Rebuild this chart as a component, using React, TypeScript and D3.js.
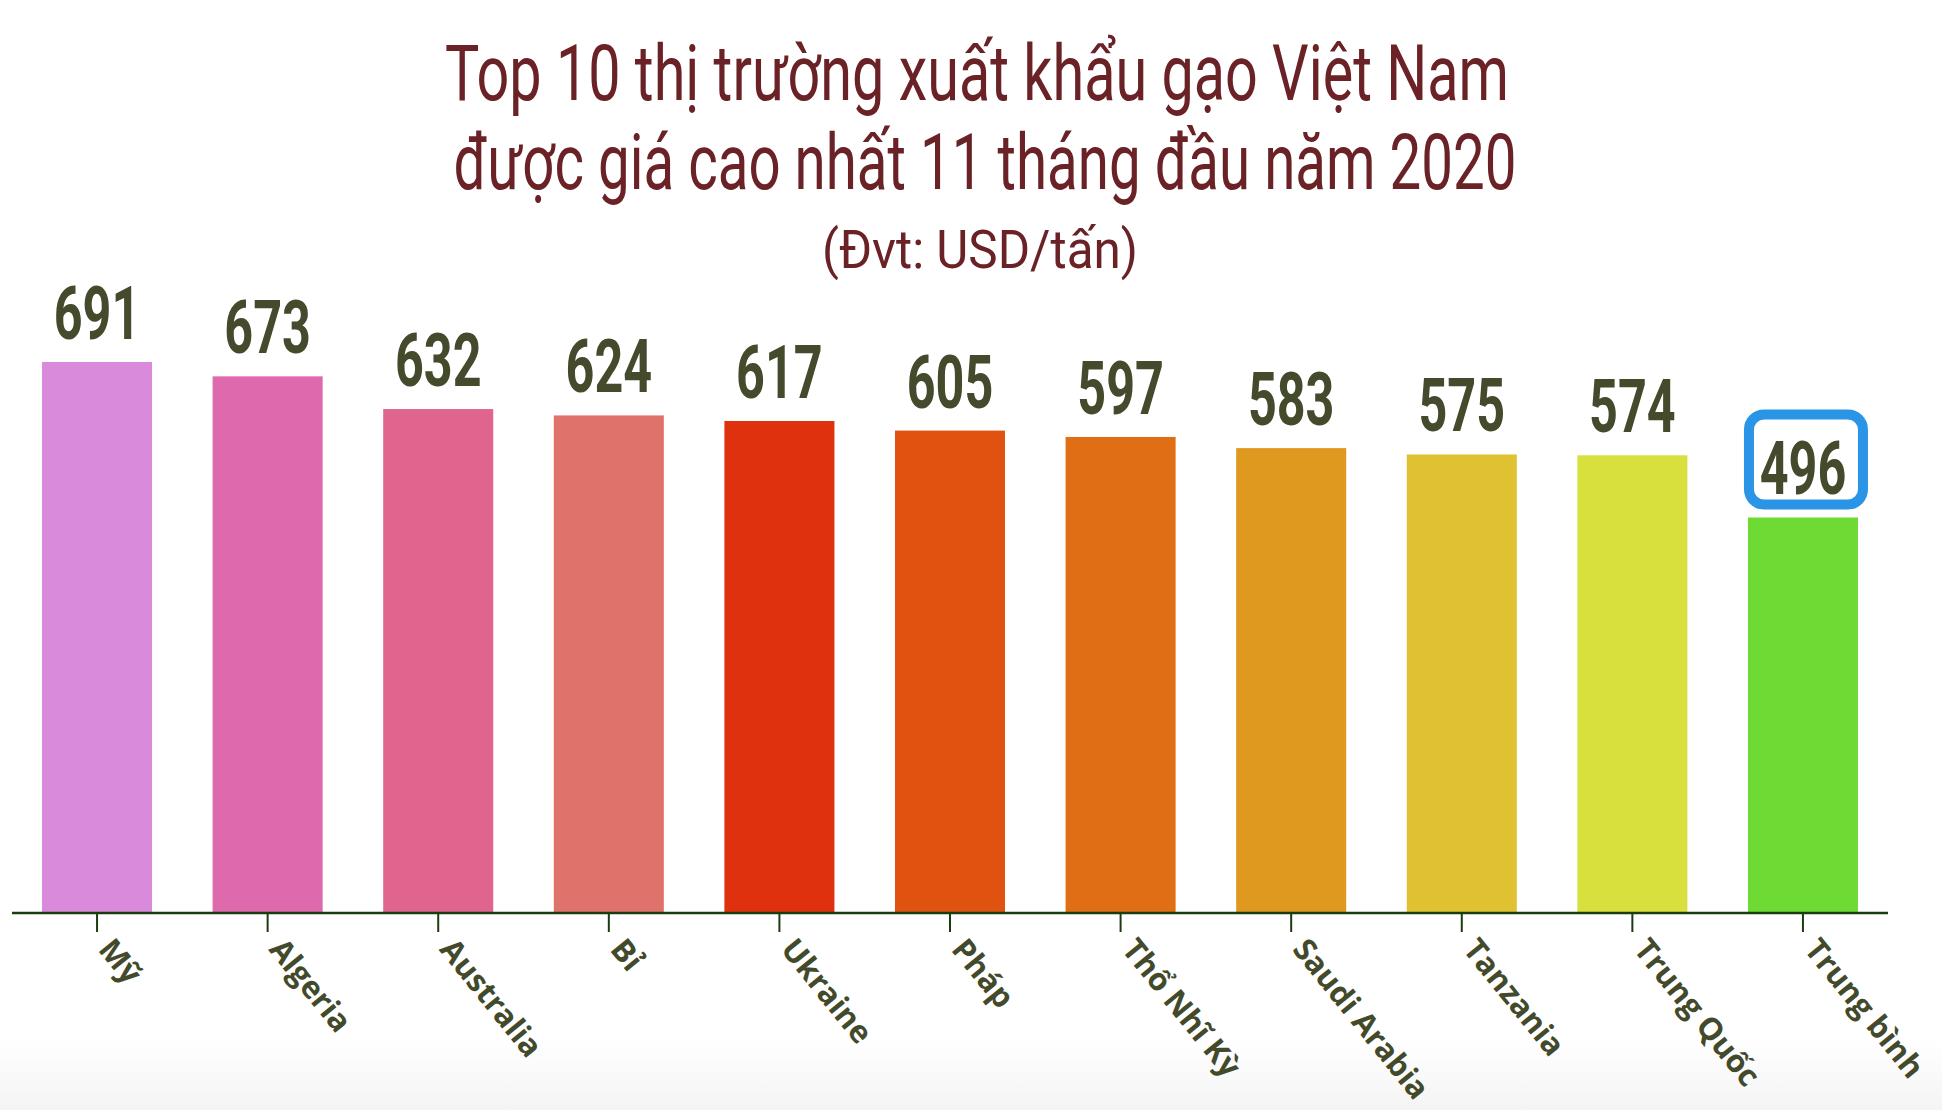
import React, { useRef, useEffect } from "react"
import * as d3 from "d3"

const countries = [
  "Mỹ",
  "Algeria",
  "Australia",
  "Bỉ",
  "Ukraine",
  "Pháp",
  "Thổ Nhĩ Kỳ",
  "Saudi Arabia",
  "Tanzania",
  "Trung Quốc",
  "Trung bình",
]

const prices = [691, 673, 632, 624, 617, 605, 597, 583, 575, 574, 496]

const barColors = [
  "#d98adb",
  "#de69ad",
  "#df658f",
  "#df726b",
  "#e0310e",
  "#df520f",
  "#df6e14",
  "#df991f",
  "#dfc131",
  "#d7e03d",
  "#6edb35",
]

const titleLines = [
  "Top 10 thị trường xuất khẩu gạo Việt Nam",
  "được giá cao nhất 11 tháng đầu năm 2020",
]
const unitLine = "(Đvt: USD/tấn)"
const highlighted = "Trung bình"

const W = 1942
const H = 1110

const App: React.FC = () => {
  const svgRef = useRef<SVGSVGElement>(null)

  useEffect(() => {
    if (!svgRef.current) return
    const svg = d3.select(svgRef.current)
    svg.selectAll("*").remove()

    const data = countries.map((name, i) => ({
      name,
      value: prices[i],
      color: barColors[i],
    }))

    const baseline = 913
    const x = d3
      .scaleBand()
      .domain(countries)
      .range([12, 1888])
      .paddingInner(0.355)
      .paddingOuter(0.176)

    const y = d3.scaleLinear().domain([0, 691]).range([baseline, 362])

    // soft grey fade at the bottom
    const defs = svg.append("defs")
    const grad = defs
      .append("linearGradient")
      .attr("id", "fade")
      .attr("x1", 0)
      .attr("x2", 0)
      .attr("y1", 0)
      .attr("y2", 1)
    grad.append("stop").attr("offset", "0%").attr("stop-color", "#ffffff")
    grad.append("stop").attr("offset", "100%").attr("stop-color", "#f4f4f4")

    svg.append("rect").attr("width", W).attr("height", H).attr("fill", "#fff")
    svg
      .append("rect")
      .attr("y", 1040)
      .attr("width", W)
      .attr("height", H - 1040)
      .attr("fill", "url(#fade)")

    // title
    const titleColor = "#6a2226"
    const titleInfo = [
      { text: titleLines[0], cx: 977, y: 100, size: 78, len: 1064 },
      { text: titleLines[1], cx: 985, y: 189, size: 78, len: 1063 },
      { text: unitLine, cx: 980, y: 268, size: 54, len: 316 },
    ]
    svg
      .selectAll(".title")
      .data(titleInfo)
      .enter()
      .append("text")
      .attr("class", "title")
      .attr("x", (d) => d.cx - d.len / 2)
      .attr("y", (d) => d.y)
      .attr("textLength", (d) => d.len)
      .attr("lengthAdjust", "spacingAndGlyphs")
      .attr("font-family", "Roboto, sans-serif")
      .attr("font-weight", 400)
      .attr("font-size", (d) => d.size)
      .attr("fill", titleColor)
      .text((d) => d.text)

    // bars
    svg
      .selectAll(".bar")
      .data(data)
      .enter()
      .append("rect")
      .attr("class", "bar")
      .attr("x", (d) => x(d.name)!)
      .attr("y", (d) => y(d.value))
      .attr("width", x.bandwidth())
      .attr("height", (d) => baseline - y(d.value))
      .attr("fill", (d) => d.color)

    // highlight box around average label
    const hl = data.find((d) => d.name === highlighted)!
    const hlX = x(hl.name)! + x.bandwidth() / 2
    const hlBase = y(hl.value) - 23
    svg
      .append("rect")
      .attr("x", hlX - 54)
      .attr("y", hlBase - 80)
      .attr("width", 114)
      .attr("height", 90)
      .attr("rx", 15)
      .attr("ry", 15)
      .attr("fill", "#fff")
      .attr("stroke", "#2a95e6")
      .attr("stroke-width", 10)

    // value labels
    svg
      .selectAll(".value")
      .data(data)
      .enter()
      .append("g")
      .attr(
        "transform",
        (d) =>
          `translate(${x(d.name)! + x.bandwidth() / 2},${y(d.value) - 23}) scale(0.68,1)`
      )
      .append("text")
      .attr("text-anchor", "middle")
      .attr("font-family", "Roboto, sans-serif")
      .attr("font-weight", 700)
      .attr("font-size", 74)
      .attr("fill", "#444a2c")
      .text((d) => d.value)

    // x axis
    const axisColor = "#1b3c10"
    svg
      .append("line")
      .attr("x1", 12)
      .attr("x2", 1888)
      .attr("y1", baseline)
      .attr("y2", baseline)
      .attr("stroke", axisColor)
      .attr("stroke-width", 2.5)

    svg
      .selectAll(".tick")
      .data(countries)
      .enter()
      .append("line")
      .attr("x1", (d) => x(d)! + x.bandwidth() / 2)
      .attr("x2", (d) => x(d)! + x.bandwidth() / 2)
      .attr("y1", baseline)
      .attr("y2", baseline + 19)
      .attr("stroke", axisColor)
      .attr("stroke-width", 2)

    svg
      .selectAll(".xlabel")
      .data(countries)
      .enter()
      .append("text")
      .attr(
        "transform",
        (d) => `translate(${x(d)! + x.bandwidth() / 2},${baseline + 19}) rotate(51)`
      )
      .attr("x", 14)
      .attr("y", 11)
      .attr("font-family", "'Open Sans', sans-serif")
      .attr("font-weight", 700)
      .attr("font-size", 31)
      .attr("fill", "#434a2b")
      .text((d) => d)
  }, [])

  return (
    <div style={{ position: "absolute", left: 0, top: 0 }}>
      <svg ref={svgRef} width={W} height={H} style={{ display: "block" }} />
    </div>
  )
}

export default App
